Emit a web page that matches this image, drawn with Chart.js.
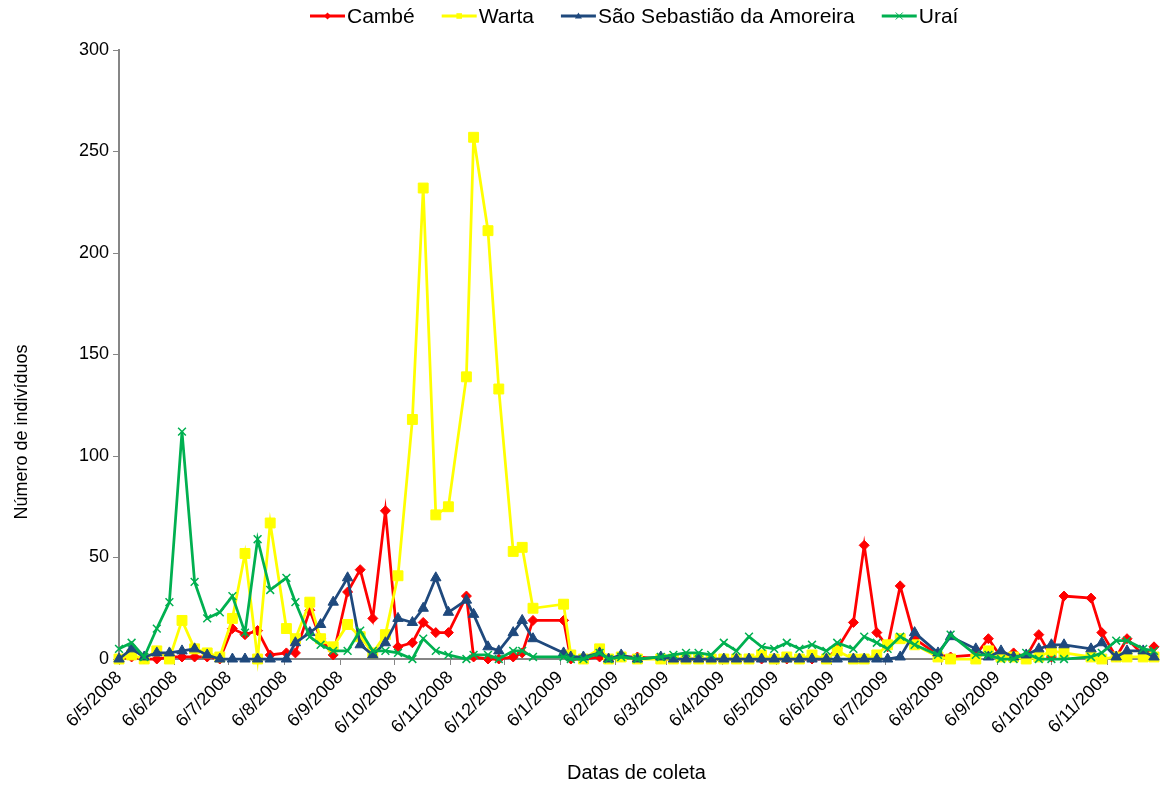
<!DOCTYPE html>
<html>
<head>
<meta charset="utf-8">
<title>Número de indivíduos por data de coleta</title>
<script src="https://cdn.jsdelivr.net/npm/chart.js@4.4.1/dist/chart.umd.min.js"></script>
<style>
  html, body { margin: 0; padding: 0; background: #fff; }
</style>
</head>
<body>
<canvas id="chart" width="1162" height="785"></canvas>
<script>
// Sampling dates (yyyy-mm-dd)
const dates = [
  '2008-05-06','2008-05-13','2008-05-20','2008-05-27','2008-06-03','2008-06-10','2008-06-17','2008-06-24',
  '2008-07-01','2008-07-08','2008-07-15','2008-07-22','2008-07-29','2008-08-07','2008-08-12','2008-08-20',
  '2008-08-26','2008-09-02','2008-09-10','2008-09-17','2008-09-24','2008-10-01','2008-10-08','2008-10-16',
  '2008-10-22','2008-10-29','2008-11-05','2008-11-15','2008-11-19','2008-11-27','2008-12-03','2008-12-11',
  '2008-12-16','2008-12-22','2009-01-08','2009-01-12','2009-01-19','2009-01-28','2009-02-02','2009-02-09',
  '2009-02-18','2009-03-03','2009-03-10','2009-03-17','2009-03-24','2009-03-31','2009-04-07','2009-04-14',
  '2009-04-21','2009-04-28','2009-05-05','2009-05-12','2009-05-19','2009-05-26','2009-06-03','2009-06-09',
  '2009-06-18','2009-06-24','2009-07-01','2009-07-07','2009-07-14','2009-07-22','2009-08-04','2009-08-11',
  '2009-08-25','2009-09-01','2009-09-08','2009-09-15','2009-09-22','2009-09-29','2009-10-06','2009-10-13',
  '2009-10-28','2009-11-03','2009-11-11','2009-11-17','2009-11-26','2009-12-02'
];

const cambe = [
  0,1,0,0,1,1,1,1,0,
  15,12,14,2,3,3,24,10,2,
  33,44,20,73,6,8,18,13,13,
  31,1,0,0,1,3,19,
  19,0,0,1,0,1,1,
  0,0,0,0,0,0,0,0,0,0,0,0,0,0,
  5,18,56,13,6,36,10,
  2,1,2,10,1,3,1,12,1,31,
  30,13,1,10,2,6
];

const warta = [
  0,2,0,4,0,19,5,3,1,
  20,52,0,67,15,10,28,10,6,
  17,11,3,12,41,118,232,71,75,
  139,257,211,133,53,55,25,
  27,2,0,5,0,1,0,
  0,0,0,0,0,0,0,0,2,0,1,0,2,0,
  4,0,0,2,7,10,7,
  1,0,0,4,1,1,0,1,4,3,
  1,0,1,1,1,1
];

const saoSebastiao = [
  0,5,1,3,3,4,5,2,0,
  0,0,0,0,0,8,13,17,28,
  40,7,2,8,20,18,25,40,23,
  29,22,6,4,13,19,10,
  3,1,1,3,0,2,0,
  1,0,0,0,0,0,0,0,0,0,0,0,0,0,
  0,0,0,0,0,1,13,
  3,11,5,1,4,1,2,5,7,7,
  5,8,1,4,4,1
];

const urai = [
  5,8,1,15,28,112,38,20,23,
  31,13,59,34,40,28,11,7,4,
  4,14,4,4,3,0,10,4,2,
  0,2,2,0,4,4,1,
  1,0,0,3,0,1,0,
  1,2,3,3,2,8,4,11,6,5,8,5,7,4,
  8,5,11,8,5,11,7,
  2,12,2,2,0,0,3,0,0,0,
  1,3,9,9,5,4
];

const seriesNames = ['Cambé', 'Warta', 'São Sebastião da Amoreira', 'Uraí'];
const xTickLabels = ['6/5/2008','6/6/2008','6/7/2008','6/8/2008','6/9/2008','6/10/2008','6/11/2008',
  '6/12/2008','6/1/2009','6/2/2009','6/3/2009','6/4/2009','6/5/2009','6/6/2009','6/7/2009',
  '6/8/2009','6/9/2009','6/10/2009','6/11/2009'];
const yTickValues = [0, 50, 100, 150, 200, 250, 300];

// days since the first collection
const DAY = 86400000;
const t0 = Date.UTC(2008, 4, 6);
function isoToDay(s) {
  const p = s.split('-');
  return (Date.UTC(+p[0], +p[1] - 1, +p[2]) - t0) / DAY;
}
function dmyToDay(s) {
  const p = s.split('/');
  return (Date.UTC(+p[2], +p[1] - 1, +p[0]) - t0) / DAY;
}
const days = dates.map(isoToDay);
const tickDays = xTickLabels.map(dmyToDay);

function points(values) {
  return values.map((v, i) => ({ x: days[i], y: v }));
}

const FONT = '"Liberation Sans", Arial, sans-serif';
const AXIS_GREY = '#868686';

const styles = [
  { color: '#FF0000', point: 'rectRot',  radius: 5,   order: 4 },
  { color: '#FFFF00', point: 'rect',     radius: 7,   order: 3 },
  { color: '#1F497D', point: 'triangle', radius: 6,   order: 2 },
  { color: '#00B050', point: 'crossRot', radius: 5.5, order: 1 }
];
const allValues = [cambe, warta, saoSebastiao, urai];

const datasets = allValues.map((vals, i) => ({
  label: seriesNames[i],
  data: points(vals),
  borderColor: styles[i].color,
  backgroundColor: styles[i].color,
  pointBackgroundColor: styles[i].color,
  pointBorderColor: styles[i].color,
  pointStyle: styles[i].point,
  pointRadius: styles[i].radius,
  pointBorderWidth: i === 3 ? 1.5 : 1,
  borderWidth: 2.75,
  tension: 0,
  clip: false,
  order: styles[i].order
}));

// legend drawn like the spreadsheet one: short line with marker, text right after
function marker(ctx, style, x, y, r) {
  ctx.fillStyle = style.color;
  ctx.strokeStyle = style.color;
  ctx.lineWidth = 1;
  ctx.beginPath();
  if (style.point === 'rectRot') {
    ctx.moveTo(x, y - r); ctx.lineTo(x + r, y); ctx.lineTo(x, y + r); ctx.lineTo(x - r, y);
    ctx.closePath(); ctx.fill();
  } else if (style.point === 'rect') {
    ctx.rect(x - r * 0.8, y - r * 0.8, r * 1.6, r * 1.6); ctx.fill();
  } else if (style.point === 'triangle') {
    ctx.moveTo(x, y - r); ctx.lineTo(x + r, y + r * 0.7); ctx.lineTo(x - r, y + r * 0.7);
    ctx.closePath(); ctx.fill();
  } else {
    ctx.moveTo(x - r, y - r); ctx.lineTo(x + r, y + r);
    ctx.moveTo(x + r, y - r); ctx.lineTo(x - r, y + r); ctx.stroke();
  }
}

const legendAndTitle = {
  id: 'legendAndTitle',
  afterDraw(chart) {
    const ctx = chart.ctx;
    ctx.save();
    ctx.font = '21px ' + FONT;
    ctx.textBaseline = 'middle';
    let x = 310;
    const y = 16;
    seriesNames.forEach((name, i) => {
      ctx.strokeStyle = styles[i].color;
      ctx.lineWidth = 3;
      ctx.beginPath();
      ctx.moveTo(x, y);
      ctx.lineTo(x + 35, y);
      ctx.stroke();
      marker(ctx, styles[i], x + 17.5, y, 3.5);
      ctx.fillStyle = '#000';
      ctx.fillText(name, x + 37, y + 1);
      x += 37 + ctx.measureText(name).width + 27;
    });

    // y axis title
    ctx.translate(22, 432);
    ctx.rotate(-Math.PI / 2);
    ctx.font = '18px ' + FONT;
    ctx.textAlign = 'center';
    ctx.fillStyle = '#000';
    ctx.fillText('Número de indivíduos', 0, 0);
    ctx.restore();
  }
};

new Chart(document.getElementById('chart'), {
  type: 'line',
  data: { datasets },
  options: {
    responsive: false,
    animation: false,
    layout: { padding: { top: 50, right: 2, left: 0, bottom: 0 } },
    plugins: {
      legend: { display: false },
      tooltip: { enabled: false }
    },
    scales: {
      x: {
        type: 'linear',
        min: 0,
        max: days[days.length - 1],
        afterBuildTicks: (scale) => { scale.ticks = tickDays.map(v => ({ value: v })); },
        afterFit: (scale) => { scale.height = 126; },
        ticks: {
          autoSkip: false,
          minRotation: 45,
          maxRotation: 45,
          padding: 2,
          color: '#000',
          font: { family: FONT, size: 18 },
          callback: (value, index) => xTickLabels[index]
        },
        grid: { drawOnChartArea: false, drawTicks: true, tickLength: 6, color: AXIS_GREY, lineWidth: 1 },
        border: { color: AXIS_GREY, width: 2 },
        title: {
          display: true,
          text: 'Datas de coleta',
          color: '#000',
          font: { family: FONT, size: 20 },
          padding: { top: 0, bottom: 0 }
        }
      },
      y: {
        min: 0,
        max: 300,
        afterBuildTicks: (scale) => { scale.ticks = yTickValues.map(v => ({ value: v })); },
        afterFit: (scale) => { scale.width = 119; },
        ticks: {
          padding: 4,
          color: '#000',
          font: { family: FONT, size: 18 }
        },
        grid: { drawOnChartArea: false, drawTicks: true, tickLength: 6, color: AXIS_GREY, lineWidth: 1 },
        border: { color: AXIS_GREY, width: 2 }
      }
    }
  },
  plugins: [legendAndTitle]
});
</script>
</body>
</html>
